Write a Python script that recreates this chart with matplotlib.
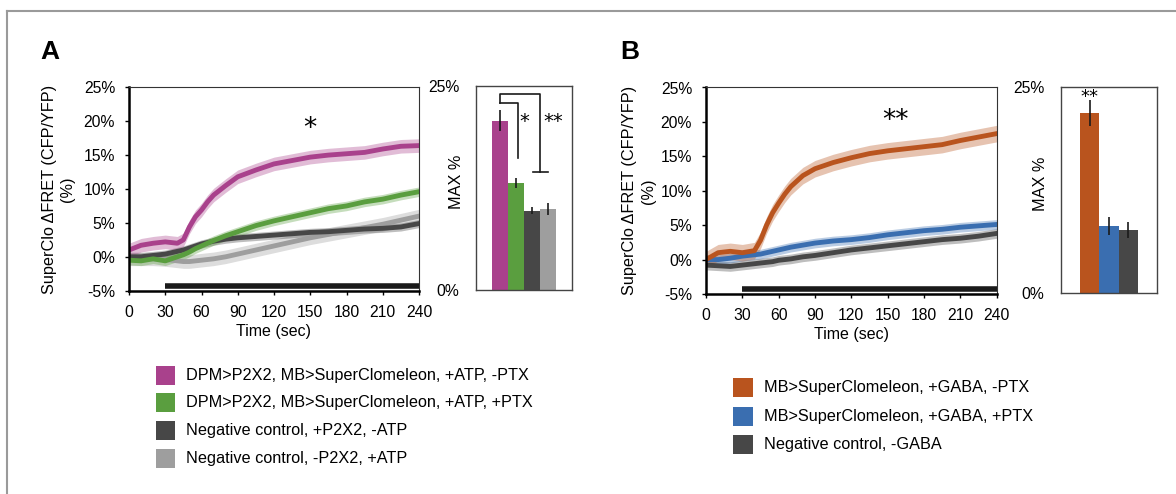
import numpy as np
import matplotlib.pyplot as plt
from matplotlib.lines import Line2D
from matplotlib.patches import Rectangle

plt.rcParams['font.family'] = ['Liberation Sans', 'DejaVu Sans']

# ---- data ----
t = [0, 10, 20, 30, 40, 45, 50, 55, 60, 65, 70, 80, 90, 105, 120, 135, 150, 165, 180, 195, 210, 225, 240]

# panel A traces (% dFRET)
a_magenta = [1.0, 1.7, 2.0, 2.2, 2.0, 2.5, 4.4, 5.9, 6.9, 8.1, 9.1, 10.5, 11.8, 12.8, 13.7, 14.2, 14.7, 15.0, 15.2, 15.4, 15.9, 16.3, 16.4]
a_green = [-0.5, -0.6, -0.3, -0.6, 0.0, 0.3, 0.7, 1.2, 1.6, 2.0, 2.4, 3.1, 3.7, 4.6, 5.3, 5.9, 6.5, 7.1, 7.5, 8.1, 8.5, 9.1, 9.6]
a_dark = [0.0, 0.0, 0.2, 0.4, 0.8, 1.0, 1.3, 1.6, 1.9, 2.1, 2.3, 2.6, 2.8, 3.0, 3.2, 3.4, 3.6, 3.7, 3.9, 4.1, 4.2, 4.4, 4.9]
a_light = [-0.3, -0.3, -0.3, -0.4, -0.6, -0.7, -0.7, -0.6, -0.5, -0.4, -0.3, 0.0, 0.4, 1.0, 1.6, 2.2, 2.8, 3.3, 3.8, 4.3, 4.8, 5.4, 6.0]
a_sem = [1.0, 0.7, 0.6, 1.0]

# panel B traces
b_orange = [0.0, 1.0, 1.2, 1.0, 1.3, 2.8, 5.0, 6.8, 8.2, 9.5, 10.6, 12.2, 13.2, 14.1, 14.8, 15.4, 15.8, 16.1, 16.4, 16.7, 17.3, 17.8, 18.3]
b_blue = [0.0, 0.0, 0.2, 0.5, 0.7, 0.8, 1.0, 1.2, 1.4, 1.6, 1.8, 2.1, 2.4, 2.7, 2.9, 3.2, 3.6, 3.9, 4.2, 4.4, 4.7, 4.9, 5.1]
b_dark = [-0.8, -0.9, -1.0, -0.8, -0.6, -0.5, -0.4, -0.3, -0.1, 0.0, 0.1, 0.4, 0.6, 1.0, 1.4, 1.7, 2.0, 2.3, 2.6, 2.9, 3.1, 3.4, 3.8]
b_sem = [1.2, 0.7, 0.7]

stim = [30, 240]

# MAX % bars
a_max = [20.7, 13.1, 9.7, 9.9]
a_max_err = [1.3, 0.65, 0.45, 0.75]
b_max = [21.9, 8.1, 7.6]
b_max_err = [1.6, 1.1, 1.0]

a_labels = ['DPM>P2X2, MB>SuperClomeleon, +ATP, -PTX',
            'DPM>P2X2, MB>SuperClomeleon, +ATP, +PTX',
            'Negative control, +P2X2, -ATP',
            'Negative control, -P2X2, +ATP']
b_labels = ['MB>SuperClomeleon, +GABA, -PTX',
            'MB>SuperClomeleon, +GABA, +PTX',
            'Negative control, -GABA']

a_colors = ['#A9418C', '#5A9E3F', '#474747', '#9E9E9E']
b_colors = ['#B9541E', '#3A6EB0', '#474747']

xticks = [0, 30, 60, 90, 120, 150, 180, 210, 240]
yticks = [-5, 0, 5, 10, 15, 20, 25]
ytick_labels = ['-5%', '0%', '5%', '10%', '15%', '20%', '25%']

W, H = 1176, 494
fig = plt.figure(figsize=(W / 100, H / 100), dpi=100)
star_font = ['DejaVu Sans']


def box(l, r, top, bot):
    return [l / W, 1 - bot / H, (r - l) / W, (bot - top) / H]


def trace_axes(ax, series, sems, colors, order, lpad):
    tt = np.array(t)
    for i in order:
        y = np.array(series[i])
        ax.fill_between(tt, y - sems[i], y + sems[i], color=colors[i], alpha=0.35, lw=0)
        ax.plot(tt, y, color=colors[i], lw=3.5)
    ax.hlines(-4.3, stim[0], stim[1], color='#1a1a1a', lw=4)
    ax.set_xlim(0, 240)
    ax.set_ylim(-5, 25)
    ax.set_xticks(xticks)
    ax.set_yticks(yticks)
    ax.set_yticklabels(ytick_labels)
    ax.tick_params(labelsize=11.3, length=3, width=1, pad=7)
    for s in ['left', 'bottom']:
        ax.spines[s].set_linewidth(1.8)
        ax.spines[s].set_color('black')
    for s in ['top', 'right']:
        ax.spines[s].set_linewidth(0.8)
        ax.spines[s].set_color('#333333')
    ax.set_xlabel('Time (sec)', fontsize=11.5, labelpad=3)
    ax.set_ylabel('SuperClo \u0394FRET (CFP/YFP)\n(%)', fontsize=11.7, labelpad=lpad, linespacing=1.3)


def bar_axes(ax, vals, errs, colors, xmax):
    x = np.arange(len(vals))
    ax.bar(x, vals, width=1.0, color=colors, yerr=errs, ecolor='#1a1a1a',
           error_kw=dict(elinewidth=1.2, capsize=0))
    ax.set_xlim(-1.5, xmax)
    ax.set_ylim(0, 25)
    ax.set_xticks([])
    ax.set_yticks([0, 25])
    ax.set_yticklabels(['0%', '25%'])
    ax.tick_params(length=0, labelsize=11.3, pad=12)
    for s in ax.spines.values():
        s.set_linewidth(1.0)
        s.set_color('#444444')
    ax.set_ylabel('MAX %', fontsize=11.7)


# panel A
axA = fig.add_axes(box(129, 419, 87.3, 290.7))
trace_axes(axA, [a_magenta, a_green, a_dark, a_light], a_sem, a_colors, [3, 2, 1, 0], 6)
axA.text(150, 18.8, '*', fontsize=19, ha='center', va='center', family=star_font)

barA = fig.add_axes(box(476, 572, 85.7, 290))
bar_axes(barA, a_max, a_max_err, a_colors, 4.5)
barA.yaxis.set_label_coords(-0.13, 0.53)
bk = dict(color='#1a1a1a', lw=1.2)
barA.plot([0, 1.15, 1.15], [22.9, 22.9, 16.1], **bk)
barA.plot([0, 0, 2.5, 2.5], [22.9, 24.0, 24.0, 14.5], **bk)
barA.plot([2.08, 3.02], [14.5, 14.5], **bk)
barA.text(1.55, 20.6, '*', fontsize=14, ha='center', va='center', family=star_font)
barA.text(3.35, 20.6, '**', fontsize=14, ha='center', va='center', family=star_font)

# panel B
axB = fig.add_axes(box(706, 996.7, 87.5, 294))
trace_axes(axB, [b_orange, b_blue, b_dark], b_sem, b_colors, [2, 1, 0], 3.5)
axB.text(156, 20.2, '**', fontsize=19, ha='center', va='center', family=star_font)

barB = fig.add_axes(box(1061, 1157, 87.3, 292.7))
bar_axes(barB, b_max, b_max_err, b_colors, 3.5)
barB.yaxis.set_label_coords(-0.14, 0.53)
barB.text(0, 23.8, '**', fontsize=13, ha='center', va='center', family=star_font)

# panel letters
fig.text(40 / W, 1 - 52 / H, 'A', fontsize=19, fontweight='bold', va='center')
fig.text(620 / W, 1 - 52 / H, 'B', fontsize=19, fontweight='bold', va='center')


# legends
def legend(x0, rows, labels, colors):
    for y, lab, c in zip(rows, labels, colors):
        fig.add_artist(Rectangle((x0 / W, 1 - (y + 9.5) / H), 19.5 / W, 19 / H,
                                 transform=fig.transFigure, color=c, lw=0))
        fig.text((x0 + 31) / W, 1 - y / H, lab, fontsize=11.7, va='center')


legend(155.5, [375, 402, 430, 458], a_labels, a_colors)
legend(733, [387, 416, 444], b_labels, b_colors)

# outer frame (left and top edges)
fig.add_artist(Line2D([7 / W, 7 / W], [-0.05, 1 - 11 / H], transform=fig.transFigure, color='#9a9a9a', lw=1.5))
fig.add_artist(Line2D([7 / W, 1.05], [1 - 11 / H, 1 - 11 / H], transform=fig.transFigure, color='#9a9a9a', lw=1.5))

fig.savefig('out.png', dpi=100)
